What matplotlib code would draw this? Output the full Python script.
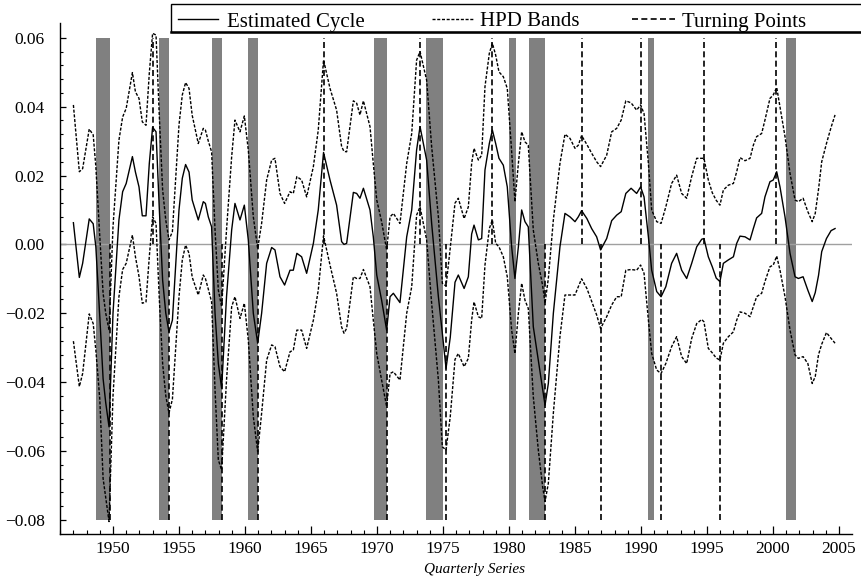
import matplotlib
matplotlib.use("Agg")
import matplotlib.pyplot as plt
from matplotlib.lines import Line2D
from matplotlib.patches import Rectangle

plt.rcParams['font.family'] = ['Liberation Serif', 'DejaVu Serif']

# quarterly dates (decimal years)
t = [1947.0, 1947.45, 1947.7, 1948.2, 1948.5, 1948.7, 1949.0, 1949.25, 1949.45, 1949.7,
     1950.0, 1950.45, 1950.73, 1951.0, 1951.47, 1951.7, 1951.97, 1952.22, 1952.5, 1952.75,
     1953.0, 1953.26, 1953.5, 1953.76, 1954.0, 1954.24, 1954.5, 1955.0, 1955.25, 1955.5,
     1955.76, 1956.0, 1956.46, 1956.84, 1957.0, 1957.22, 1957.47, 1957.73, 1957.98, 1958.23,
     1958.6, 1958.99, 1959.24, 1959.62, 1959.95, 1960.25, 1960.63, 1960.96, 1961.26, 1961.64,
     1962.02, 1962.27, 1962.65, 1963.0, 1963.41, 1963.66, 1963.93, 1964.29, 1964.67, 1965.18,
     1965.55, 1965.95, 1966.44, 1966.94, 1967.32, 1967.5, 1967.7, 1968.21, 1968.46, 1968.71,
     1968.97, 1969.47, 1969.72, 1969.98, 1970.35, 1970.73, 1970.99, 1971.24, 1971.74, 1972.25,
     1972.63, 1973.0, 1973.26, 1973.76, 1974.14, 1974.65, 1974.95, 1975.23, 1975.55, 1975.91,
     1976.16, 1976.6, 1976.92, 1977.17, 1977.35, 1977.68, 1977.93, 1978.18, 1978.51, 1978.74,
     1978.99, 1979.24, 1979.57, 1979.87, 1980.2, 1980.45, 1980.71, 1980.96, 1981.21, 1981.46,
     1981.84, 1982.22, 1982.55, 1982.73, 1982.98, 1983.36, 1983.86, 1984.24, 1984.62, 1985.0,
     1985.25, 1985.5, 1985.9, 1986.26, 1986.64, 1986.94, 1987.4, 1987.78, 1988.16, 1988.5,
     1988.85, 1989.25, 1989.67, 1989.97, 1990.23, 1990.56, 1990.81, 1991.19, 1991.52, 1991.88,
     1992.32, 1992.7, 1993.08, 1993.46, 1993.84, 1994.22, 1994.6, 1994.77, 1995.1, 1995.4,
     1995.7, 1995.98, 1996.24, 1996.62, 1997.0, 1997.25, 1997.5, 1997.88, 1998.26, 1998.51,
     1998.76, 1999.14, 1999.39, 1999.77, 2000.02, 2000.28, 2000.53, 2000.91, 2001.29, 2001.67,
     2001.92, 2002.28, 2002.64, 2002.97, 2003.2, 2003.45, 2003.69, 2004.05, 2004.4, 2004.7]

cycle = [0.0063, -0.0096, -0.0055, 0.0074, 0.0060, -0.0007, -0.0210, -0.0390, -0.0460, -0.0530,
         -0.0200, 0.0071, 0.0153, 0.0177, 0.0255, 0.0210, 0.0167, 0.0083, 0.0083, 0.0235,
         0.0340, 0.0327, 0.0110, -0.0104, -0.0200, -0.0254, -0.0220, 0.0100, 0.0192, 0.0232,
         0.0210, 0.0129, 0.0071, 0.0124, 0.0119, 0.0080, 0.0051, -0.0200, -0.0346, -0.0418,
         -0.0152, 0.0042, 0.0119, 0.0071, 0.0114, 0.0013, -0.0200, -0.0287, -0.0200, -0.0055,
         -0.0009, -0.0016, -0.0094, -0.0118, -0.0075, -0.0075, -0.0026, -0.0036, -0.0084, 0.0003,
         0.0100, 0.0267, 0.0187, 0.0114, 0.0008, 0.0000, 0.0003, 0.0151, 0.0148, 0.0134,
         0.0163, 0.0100, 0.0022, -0.0089, -0.0162, -0.0249, -0.0152, -0.0142, -0.0169, 0.0022,
         0.0100, 0.0274, 0.0342, 0.0245, 0.0061, -0.0152, -0.0258, -0.0360, -0.0270, -0.0110,
         -0.0089, -0.0128, -0.0094, 0.0030, 0.0056, 0.0013, 0.0017, 0.0216, 0.0293, 0.0332,
         0.0293, 0.0250, 0.0230, 0.0167, -0.0007, -0.0099, -0.0007, 0.0100, 0.0066, 0.0051,
         -0.0239, -0.0336, -0.0420, -0.0467, -0.0404, -0.0200, -0.0007, 0.0090, 0.0080, 0.0066,
         0.0080, 0.0098, 0.0075, 0.0046, 0.0022, -0.0016, 0.0017, 0.0069, 0.0085, 0.0095,
         0.0148, 0.0163, 0.0148, 0.0167, 0.0138, 0.0022, -0.0075, -0.0137, -0.0152, -0.0123,
         -0.0055, -0.0026, -0.0075, -0.0099, -0.0055, -0.0007, 0.0015, 0.0017, -0.0036, -0.0065,
         -0.0098, -0.0108, -0.0055, -0.0045, -0.0036, 0.0003, 0.0024, 0.0022, 0.0013, 0.0046,
         0.0077, 0.0090, 0.0138, 0.0182, 0.0187, 0.0211, 0.0167, 0.0080, -0.0026, -0.0094,
         -0.0099, -0.0094, -0.0133, -0.0166, -0.0140, -0.0090, -0.0021, 0.0017, 0.0040, 0.0046]

upper = [0.0405, 0.0211, 0.0220, 0.0335, 0.0318, 0.0226, 0.0022, -0.0142, -0.0200, -0.0249,
         0.0051, 0.0303, 0.0370, 0.0395, 0.0499, 0.0443, 0.0424, 0.0356, 0.0346, 0.0497,
         0.0613, 0.0608, 0.0380, 0.0158, 0.0070, 0.0013, 0.0037, 0.0347, 0.0434, 0.0470,
         0.0453, 0.0375, 0.0293, 0.0337, 0.0332, 0.0300, 0.0269, 0.0042, -0.0133, -0.0181,
         0.0042, 0.0255, 0.0361, 0.0327, 0.0373, 0.0274, 0.0080, -0.0012, 0.0061, 0.0187,
         0.0245, 0.0250, 0.0148, 0.0119, 0.0153, 0.0148, 0.0197, 0.0187, 0.0138, 0.0226,
         0.0332, 0.0536, 0.0453, 0.0390, 0.0284, 0.0270, 0.0269, 0.0417, 0.0410, 0.0376,
         0.0417, 0.0342, 0.0235, 0.0129, 0.0066, -0.0016, 0.0080, 0.0090, 0.0061, 0.0235,
         0.0322, 0.0535, 0.0560, 0.0477, 0.0284, 0.0080, -0.0113, -0.0121, -0.0010, 0.0120,
         0.0134, 0.0075, 0.0109, 0.0235, 0.0279, 0.0245, 0.0259, 0.0458, 0.0555, 0.0584,
         0.0550, 0.0501, 0.0487, 0.0453, 0.0270, 0.0124, 0.0235, 0.0327, 0.0298, 0.0288,
         0.0042, -0.0055, -0.0120, -0.0171, -0.0099, 0.0071, 0.0235, 0.0320, 0.0308, 0.0279,
         0.0288, 0.0316, 0.0290, 0.0265, 0.0240, 0.0226, 0.0259, 0.0327, 0.0337, 0.0361,
         0.0417, 0.0411, 0.0390, 0.0405, 0.0380, 0.0235, 0.0100, 0.0066, 0.0061, 0.0109,
         0.0177, 0.0201, 0.0148, 0.0134, 0.0197, 0.0250, 0.0250, 0.0250, 0.0187, 0.0150,
         0.0128, 0.0114, 0.0158, 0.0172, 0.0177, 0.0211, 0.0252, 0.0243, 0.0250, 0.0288,
         0.0313, 0.0322, 0.0361, 0.0424, 0.0434, 0.0456, 0.0400, 0.0313, 0.0206, 0.0129,
         0.0124, 0.0134, 0.0095, 0.0066, 0.0090, 0.0160, 0.0240, 0.0293, 0.0340, 0.0376]

lower = [-0.0281, -0.0413, -0.0375, -0.0202, -0.0230, -0.0307, -0.0450, -0.0680, -0.0735, -0.0805,
         -0.0440, -0.0152, -0.0073, -0.0055, 0.0027, -0.0036, -0.0093, -0.0171, -0.0167, -0.0036,
         0.0080, 0.0061, -0.0152, -0.0346, -0.0440, -0.0490, -0.0450, -0.0152, -0.0045, -0.0002,
         -0.0026, -0.0095, -0.0147, -0.0089, -0.0099, -0.0130, -0.0167, -0.0423, -0.0626, -0.0655,
         -0.0394, -0.0181, -0.0152, -0.0215, -0.0171, -0.0278, -0.0500, -0.0602, -0.0490, -0.0336,
         -0.0292, -0.0297, -0.0355, -0.0370, -0.0312, -0.0307, -0.0249, -0.0249, -0.0302, -0.0220,
         -0.0133, 0.0025, -0.0060, -0.0142, -0.0240, -0.0258, -0.0244, -0.0094, -0.0099, -0.0099,
         -0.0073, -0.0123, -0.0220, -0.0317, -0.0394, -0.0471, -0.0375, -0.0370, -0.0394, -0.0200,
         -0.0123, 0.0085, 0.0109, 0.0013, -0.0171, -0.0394, -0.0588, -0.0597, -0.0500, -0.0334,
         -0.0317, -0.0355, -0.0331, -0.0220, -0.0167, -0.0210, -0.0215, -0.0060, 0.0046, 0.0071,
         0.0003, -0.0007, -0.0036, -0.0094, -0.0249, -0.0317, -0.0200, -0.0113, -0.0162, -0.0186,
         -0.0442, -0.0597, -0.0704, -0.0747, -0.0694, -0.0490, -0.0268, -0.0147, -0.0147, -0.0147,
         -0.0123, -0.0100, -0.0128, -0.0165, -0.0205, -0.0244, -0.0210, -0.0176, -0.0152, -0.0152,
         -0.0075, -0.0073, -0.0075, -0.0060, -0.0084, -0.0220, -0.0317, -0.0365, -0.0375, -0.0346,
         -0.0297, -0.0268, -0.0326, -0.0346, -0.0273, -0.0230, -0.0218, -0.0225, -0.0302, -0.0315,
         -0.0330, -0.0336, -0.0287, -0.0268, -0.0254, -0.0220, -0.0196, -0.0200, -0.0210, -0.0181,
         -0.0152, -0.0142, -0.0108, -0.0065, -0.0060, -0.0034, -0.0075, -0.0152, -0.0249, -0.0321,
         -0.0331, -0.0326, -0.0346, -0.0404, -0.0384, -0.0320, -0.0290, -0.0256, -0.0273, -0.0287]

# recessions (shaded) and turning points
rec_start = [1948.75, 1953.5, 1957.5, 1960.25, 1969.75, 1973.75, 1980.0, 1981.5, 1990.5, 2001.0]
rec_end = [1949.75, 1954.25, 1958.25, 1961.0, 1970.75, 1975.0, 1980.5, 1982.75, 1991.0, 2001.75]
peaks = [1953.0, 1966.0, 1973.25, 1978.75, 1985.5, 1990.0, 1994.75, 2000.25]
troughs = [1949.75, 1954.25, 1958.25, 1961.0, 1970.75, 1975.25, 1982.75, 1987.0, 1991.5, 1996.0]

SERIF = ['Liberation Serif', 'DejaVu Serif']
W, H = 861, 576
fig = plt.figure(figsize=(W / 100, H / 100), dpi=100)
ax = fig.add_axes([60 / W, 1 - 534.3 / H, 792 / W, (534.3 - 23) / H])

widths = [e - s for s, e in zip(rec_start, rec_end)]
ax.bar(rec_start, [0.14] * len(rec_start), width=widths, bottom=-0.08,
       align='edge', color='#808080', lw=0, zorder=1)
ax.axhline(0, color='#a0a0a0', lw=1.0, zorder=2)

hpd_dash = (2.2, 1.2)
tp_style = (0, (3.6, 2.0))
ax.plot(t, upper, color='black', lw=1.0, dashes=hpd_dash, zorder=3)
ax.plot(t, lower, color='black', lw=1.0, dashes=hpd_dash, zorder=3)
ax.plot(t, cycle, color='black', lw=1.0, zorder=4)
ax.vlines(peaks, 0, 0.06, colors='black', linestyles=tp_style, lw=1.2, zorder=4)
ax.vlines(troughs, -0.08, 0, colors='black', linestyles=tp_style, lw=1.2, zorder=4)

ax.set_xlim(1945.985, 2005.985)
ax.set_ylim(-0.0842, 0.0643)
for s in ['top', 'right']:
    ax.spines[s].set_visible(False)
ax.spines['left'].set_linewidth(1.0)
ax.spines['bottom'].set_linewidth(1.0)

xt = list(range(1950, 2006, 5))
ax.set_xticks(xt)
ax.set_xticklabels([str(v) for v in xt], fontfamily=SERIF)
ax.set_xticks(list(range(1946, 2006)), minor=True)
yt = [-0.08, -0.06, -0.04, -0.02, 0.0, 0.02, 0.04, 0.06]
ax.set_yticks(yt)
ax.set_yticklabels([f"{v:.2f}".replace('-', '\u2212') for v in yt], fontfamily=SERIF)
ax.set_yticks([-0.08 + 0.004 * i for i in range(36)], minor=True)

ax.tick_params(axis='x', which='major', direction='in', length=5.5, width=0.9, pad=4.5, labelsize=12.5)
ax.tick_params(axis='x', which='minor', direction='in', length=3, width=0.8)
ax.tick_params(axis='y', which='major', direction='in', length=4, width=0.9, pad=11, labelsize=12.5)
ax.tick_params(axis='y', which='minor', direction='in', length=2.5, width=0.8)

fig.text(474.5 / W, 1 - 575.5 / H, 'Quarterly Series', style='italic', fontsize=11,
         fontfamily=SERIF, ha='center', va='bottom')

# legend box along the top edge
def fx(x):
    return x / W


def fy(y):
    return 1 - y / H


fig.add_artist(Rectangle((fx(170.7), fy(32)), fx(880) - fx(170.7), fy(4.3) - fy(32),
                         fill=False, lw=1.0, edgecolor='black', transform=fig.transFigure))
fig.add_artist(Line2D([fx(170.7), fx(880)], [fy(32), fy(32)], lw=1.8, color='black',
                      transform=fig.transFigure))
legend_items = [
    (178, 218, 227, 'Estimated Cycle', dict(linestyle='-')),
    (432, 474, 480, 'HPD Bands', dict(dashes=hpd_dash)),
    (632, 675, 682, 'Turning Points', dict(linestyle=tp_style, lw=1.2)),
]
for x0, x1, xt0, label, style in legend_items:
    kw = dict(color='black', lw=1.0)
    kw.update(style)
    fig.add_artist(Line2D([fx(x0), fx(x1)], [fy(19.3), fy(19.3)],
                          transform=fig.transFigure, **kw))
    fig.text(fx(xt0), fy(26.5), label, fontsize=15, fontfamily=SERIF,
             ha='left', va='baseline')

fig.savefig('out.png', dpi=100)
